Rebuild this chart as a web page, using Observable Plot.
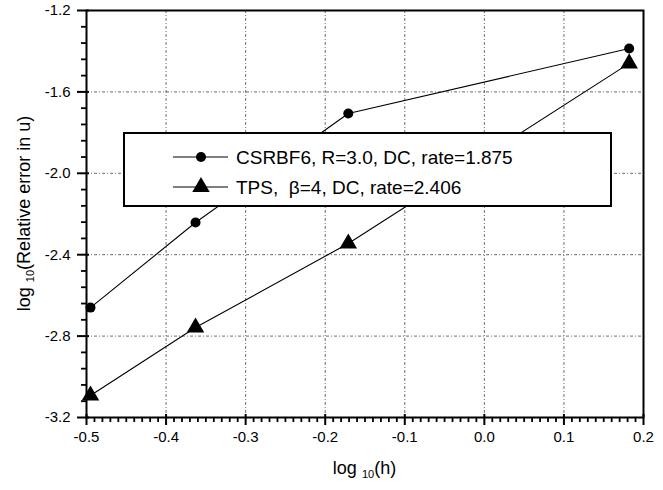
<!DOCTYPE html>
<html>
<head>
<meta charset="utf-8">
<script src="https://cdn.jsdelivr.net/npm/d3@7"></script>
<script src="https://cdn.jsdelivr.net/npm/@observablehq/plot@0.6"></script>
<style>
  body { margin: 0; background: #fff; }
  svg text { white-space: pre; }
</style>
</head>
<body>
<div id="chart"></div>
<script>
// Convergence of the relative error in u against mesh size h (log-log)
const logH = [-0.495, -0.363, -0.171, 0.182];
const csrbf6Err = [-2.66, -2.242, -1.706, -1.387];
const tpsErr = [-3.092, -2.758, -2.345, -1.46];
const seriesNames = ["CSRBF6, R=3.0, DC, rate=1.875", "TPS,  \u03B2=4, DC, rate=2.406"];
const xTicks = [-0.5, -0.4, -0.3, -0.2, -0.1, 0.0, 0.1, 0.2];
const yTicks = [-3.2, -2.8, -2.4, -2.0, -1.6, -1.2];

const FONT = "'Liberation Sans', Arial, Helvetica, sans-serif";

const rows = [
  ...logH.map((x, i) => ({x, y: csrbf6Err[i], series: seriesNames[0]})),
  ...logH.map((x, i) => ({x, y: tpsErr[i], series: seriesNames[1]}))
];

// minor tick positions (between the labelled ones)
const isMajor = (v, list) => list.some(t => Math.abs(t - v) < 1e-6);
const xMinor = d3.range(-0.5, 0.2001, 0.01).map(v => +v.toFixed(3)).filter(v => !isMajor(v, xTicks));
const yMinor = d3.range(-3.2, -1.1999, 0.08).map(v => +v.toFixed(3)).filter(v => !isMajor(v, yTicks));

const gridStyle = {stroke: "#333", strokeWidth: 0.8, strokeDasharray: "3,2,1,2", strokeOpacity: 0.9};
const rC = 5, rT = 6.5;
const yBase = -3.2, xBase = -0.5;

const chart = Plot.plot({
  width: 663,
  height: 490,
  marginLeft: 86,
  marginRight: 20,
  marginTop: 10,
  marginBottom: 73,
  style: {fontFamily: FONT, fontSize: "15px", color: "black", background: "white"},
  x: {domain: [-0.5, 0.2], label: null},
  y: {domain: [-3.2, -1.2], label: null},
  marks: [
    Plot.ruleX(xTicks.slice(1, -1), gridStyle),
    Plot.ruleY(yTicks.slice(1, -1), gridStyle),
    Plot.line(rows, {x: "x", y: "y", z: "series", stroke: "black", strokeWidth: 1.1}),
    Plot.dot(rows.filter(d => d.series === seriesNames[0]), {x: "x", y: "y", symbol: "circle", r: rC, fill: "black"}),
    Plot.dot(rows.filter(d => d.series === seriesNames[1]), {x: "x", y: "y", symbol: "triangle", r: rT, fill: "black"}),
    // tick marks: zero-length rules on the axis, stretched outward with negative insets
    Plot.ruleX(xMinor, {y1: yBase, y2: yBase, insetTop: 0, insetBottom: -5, stroke: "black", strokeWidth: 1.8}),
    Plot.ruleX(xTicks, {y1: yBase, y2: yBase, insetTop: -3, insetBottom: -8, stroke: "black", strokeWidth: 2}),
    Plot.ruleY(yMinor, {x1: xBase, x2: xBase, insetLeft: -5, insetRight: 0, stroke: "black", strokeWidth: 1.8}),
    Plot.ruleY(yTicks, {x1: xBase, x2: xBase, insetLeft: -9, insetRight: -3, stroke: "black", strokeWidth: 2}),
    Plot.axisX({ticks: xTicks, tickSize: 0, tickPadding: 14, tickFormat: d => d.toFixed(1), label: null, fontSize: 15}),
    Plot.axisY({ticks: yTicks, tickSize: 0, tickPadding: 16, tickFormat: d => d.toFixed(1), label: null, fontSize: 15}),
    Plot.frame({stroke: "black", strokeWidth: 2})
  ]
});

document.getElementById("chart").appendChild(chart);

const svg = d3.select(chart);

// legend box
const lg = svg.append("g").attr("font-family", FONT).attr("text-anchor", "start");
lg.append("rect")
  .attr("x", 124).attr("y", 133).attr("width", 487).attr("height", 73)
  .attr("fill", "white").attr("stroke", "black").attr("stroke-width", 2);
const legendRows = [157, 187];
seriesNames.forEach((name, i) => {
  const ly = legendRows[i];
  lg.append("line").attr("x1", 173).attr("x2", 228).attr("y1", ly).attr("y2", ly)
    .attr("stroke", "black").attr("stroke-width", 1.1);
  const r = i === 0 ? rC : rT;
  lg.append("path")
    .attr("d", d3.symbol().type(i === 0 ? d3.symbolCircle : d3.symbolTriangle).size(Math.PI * r * r)())
    .attr("transform", `translate(201,${ly})`)
    .attr("fill", "black");
  lg.append("text").attr("x", 236).attr("y", ly).attr("dy", "0.36em")
    .attr("text-anchor", "start")
    .attr("font-size", 19).attr("fill", "black").text(name);
});

// axis titles with subscripted base
const yt = svg.append("text")
  .attr("font-family", FONT).attr("font-size", 18).attr("fill", "black")
  .attr("text-anchor", "middle")
  .attr("transform", `translate(30,${(10 + 417) / 2}) rotate(-90)`);
yt.append("tspan").text("log ");
yt.append("tspan").attr("font-size", 11).attr("dy", 4).text("10");
yt.append("tspan").attr("dy", -4).text("(Relative error in u)");

const xt = svg.append("text")
  .attr("font-family", FONT).attr("font-size", 18).attr("fill", "black")
  .attr("text-anchor", "middle")
  .attr("x", (86 + 643) / 2).attr("y", 474);
xt.append("tspan").text("log ");
xt.append("tspan").attr("font-size", 11).attr("dy", 4).text("10");
xt.append("tspan").attr("dy", -4).text("(h)");
</script>
</body>
</html>
